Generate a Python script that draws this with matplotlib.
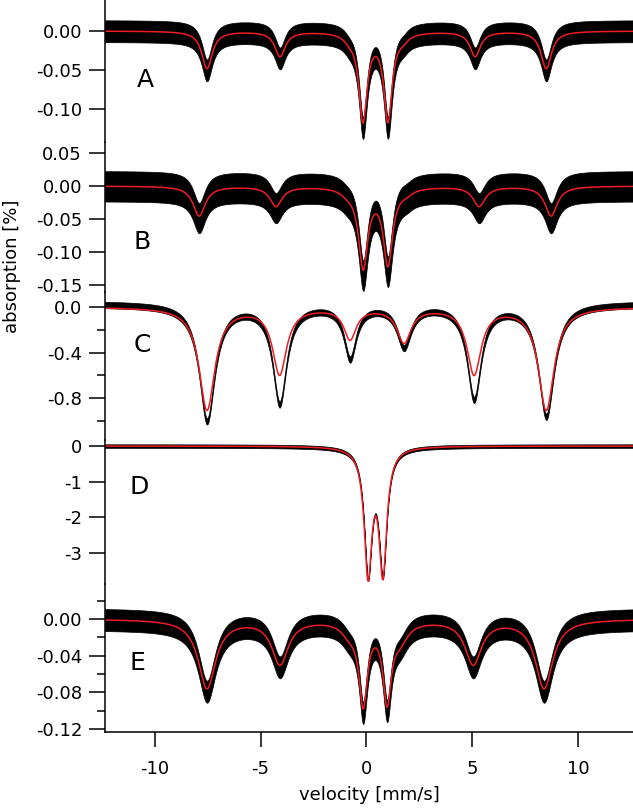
import numpy as np
import matplotlib
matplotlib.use("Agg")
import matplotlib.pyplot as plt
from matplotlib.ticker import FixedLocator

plt.rcParams['font.family'] = ['DejaVu Sans']

# %%
# line positions [mm/s], fit depths, data depths, half widths, noise band, per panel
A_pos = [-7.53, -4.08, -0.8, 1.75, 5.14, 8.5, -0.16, 1.02]
A_fit = [0.048, 0.032, 0.006, 0.006, 0.032, 0.048, 0.112, 0.112]
A_dat = [0.050, 0.034, 0.006, 0.006, 0.034, 0.050, 0.118, 0.118]
A_hw = [0.30, 0.30, 0.30, 0.30, 0.30, 0.30, 0.24, 0.24]
A_noise = 0.014

B_pos = [-7.9, -4.27, -0.9, 1.9, 5.33, 8.73, -0.15, 1.02]
B_fit = [0.045, 0.030, 0.006, 0.006, 0.030, 0.045, 0.120, 0.115]
B_dat = [0.048, 0.032, 0.006, 0.006, 0.032, 0.048, 0.128, 0.122]
B_hw = [0.35, 0.35, 0.35, 0.35, 0.35, 0.35, 0.27, 0.27]
B_noise = 0.023

C_pos = [-7.53, -4.1, -0.77, 1.78, 5.09, 8.5]
C_fit = [0.90, 0.58, 0.27, 0.30, 0.58, 0.90]
C_dat = [1.02, 0.86, 0.46, 0.36, 0.82, 0.98]
C_hw = [0.45, 0.40, 0.35, 0.40, 0.40, 0.45]
C_noise = 0.028
C_dat_offset = 0.03

D_pos = [0.08, 0.78]
D_fit = [3.50, 3.45]
D_dat = [3.45, 3.40]
D_hw = [0.22, 0.22]
D_noise = 0.05

E_pos = [-7.53, -4.08, -0.8, 1.6, 5.05, 8.4, -0.15, 0.98]
E_fit = [0.075, 0.048, 0.012, 0.018, 0.048, 0.075, 0.088, 0.084]
E_dat = [0.078, 0.050, 0.012, 0.018, 0.050, 0.078, 0.092, 0.088]
E_hw = [0.50, 0.47, 0.45, 0.45, 0.47, 0.50, 0.24, 0.24]
E_noise = 0.012

x_ticks = [-10, -5, 0, 5, 10]
x_ticklabels = ['-10', '-5', '0', '5', '10']


def spectrum(v, pos, depth, hw, offset=0.0):
    out = np.full_like(v, offset)
    for p, d, w in zip(pos, depth, hw):
        out -= d * w**2 / ((v - p)**2 + w**2)
    return out


# %%
W, H = 633, 808
fig = plt.figure(figsize=(W / 100, H / 100), dpi=100)

x_left, x_right = 105, 633
xlim = (-12.35, 12.6)
v = np.linspace(xlim[0], xlim[1], 2000)

panels = [
    # name, pos, fit, dat, hw, noise, offset, pixel top/bottom, ylim, major ticks, labels, minor ticks, label pos
    ('A', A_pos, A_fit, A_dat, A_hw, A_noise, 0.0, 0, 142, (-0.1423, 0.0397),
     [0.0, -0.05, -0.10], ['0.00', '-0.05', '-0.10'], [], (-10.46, -0.063)),
    ('B', B_pos, B_fit, B_dat, B_hw, B_noise, 0.0, 142, 292, (-0.1606, 0.0667),
     [0.05, 0.0, -0.05, -0.10, -0.15], ['0.05', '0.00', '-0.05', '-0.10', '-0.15'], [], (-10.6, -0.085)),
    ('C', C_pos, C_fit, C_dat, C_hw, C_noise, C_dat_offset, 292, 440, (-1.169, 0.132),
     [0.0, -0.4, -0.8], ['0.0', '-0.4', '-0.8'], [-0.2, -0.6, -1.0], (-10.6, -0.334)),
    ('D', D_pos, D_fit, D_dat, D_hw, D_noise, 0.0, 440, 584, (-3.887, 0.169),
     [0, -1, -2, -3], ['0', '-1', '-2', '-3'], [], (-10.74, -1.155)),
    ('E', E_pos, E_fit, E_dat, E_hw, E_noise, 0.0, 584, 732, (-0.1233, 0.0382),
     [0.0, -0.04, -0.08, -0.12], ['0.00', '-0.04', '-0.08', '-0.12'],
     [0.02, -0.02, -0.06, -0.10], (-10.83, -0.048)),
]

for (name, pos, fit, dat, hw, noise, off, top, bot, ylim,
     major, labels, minor, lab) in panels:
    ax = fig.add_axes([x_left / W, 1 - bot / H, (x_right - x_left) / W, (bot - top) / H])
    data = spectrum(v, pos, dat, hw, off)
    ax.fill_between(v, data - noise, data + noise, color='black', lw=0.5)
    ax.plot(v, spectrum(v, pos, fit, hw), color='#ee1c24', lw=1.1)
    ax.set_xlim(*xlim)
    ax.set_ylim(*ylim)
    ax.text(lab[0], lab[1], name, fontsize=18, ha='center', va='center')

    for s in ['top', 'right']:
        ax.spines[s].set_visible(False)
    ax.spines['left'].set_linewidth(1.1)
    ax.yaxis.set_major_locator(FixedLocator(major))
    ax.set_yticklabels(labels)
    ax.yaxis.set_minor_locator(FixedLocator(minor))
    ax.tick_params(axis='y', which='major', length=11.5, width=1.1, labelsize=13, pad=5)
    ax.tick_params(axis='y', which='minor', length=5.8, width=1.1)
    ax.patch.set_visible(False)

    if name == 'E':
        ax.spines['bottom'].set_linewidth(1.1)
        ax.set_xticks(x_ticks)
        ax.set_xticklabels(x_ticklabels)
        ax.tick_params(axis='x', length=11, width=1.1, labelsize=13, pad=9)
        ax.set_xlabel('velocity [mm/s]', fontsize=13, labelpad=6)
    else:
        ax.spines['bottom'].set_visible(False)
        ax.set_xticks([])

fig.text(12 / W, 1 - 266 / H, 'absorption [%]', rotation=90, fontsize=13,
         ha='center', va='center')

fig.savefig('out.png', dpi=100)
